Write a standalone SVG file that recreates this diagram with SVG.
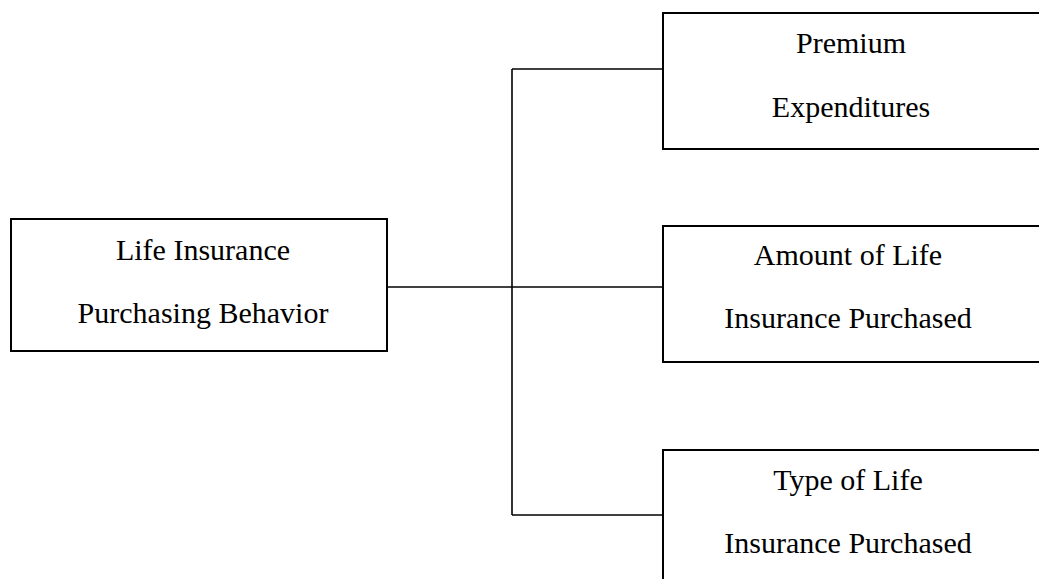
<svg xmlns="http://www.w3.org/2000/svg" width="1039" height="579" viewBox="0 0 1039 579">
<style>
.box{fill:#fff;stroke:#000;stroke-width:2}
.lbl{font-family:"Liberation Serif","Times New Roman",serif;font-size:30px;fill:#000;text-anchor:middle}
.conn{fill:none;stroke:#000;stroke-width:1.6}
</style>
<rect width="1039" height="579" fill="#fff"/>
<g id="connectors">
<path class="conn" d="M387,287 H663"/>
<path class="conn" d="M512,69 V515"/>
<path class="conn" d="M512,69 H663"/>
<path class="conn" d="M512,515 H663"/>
</g>
<g id="node-behavior">
<rect class="box" x="11" y="219" width="376" height="132"/>
<text class="lbl" x="203" y="260">Life Insurance</text>
<text class="lbl" x="203" y="323">Purchasing Behavior</text>
</g>
<g id="node-premium">
<rect class="box" x="663" y="13" width="400" height="136"/>
<text class="lbl" x="851" y="53">Premium</text>
<text class="lbl" x="851" y="117">Expenditures</text>
</g>
<g id="node-amount">
<rect class="box" x="663" y="226" width="400" height="136"/>
<text class="lbl" x="848" y="265">Amount of Life</text>
<text class="lbl" x="848" y="328">Insurance Purchased</text>
</g>
<g id="node-type">
<rect class="box" x="663" y="450" width="400" height="160"/>
<text class="lbl" x="848" y="490">Type of Life</text>
<text class="lbl" x="848" y="553">Insurance Purchased</text>
</g>
</svg>
